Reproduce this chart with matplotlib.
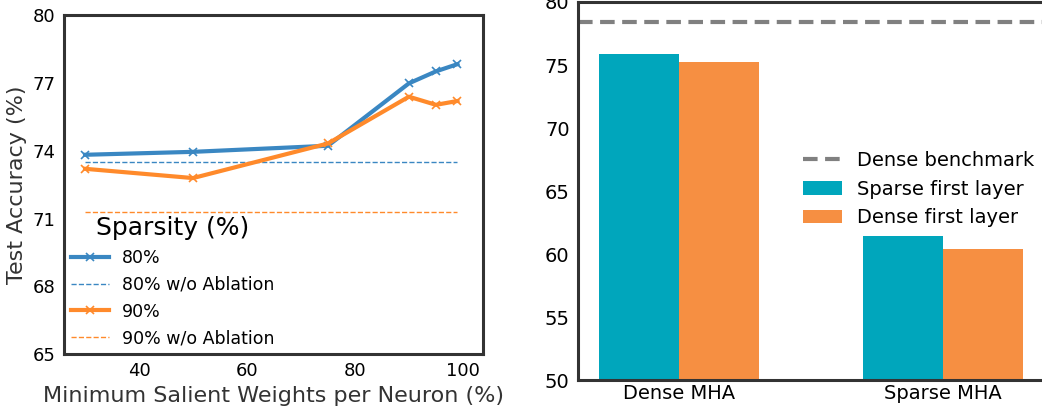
import numpy as np
import matplotlib
matplotlib.use("Agg")
import matplotlib.pyplot as plt

# left panel: accuracy vs minimum salient weights
min_salient = [30, 50, 75, 90, 95, 99]
acc_80 = [73.82, 73.95, 74.22, 76.98, 77.51, 77.83]
acc_90 = [73.2, 72.79, 74.32, 76.39, 76.03, 76.2]
acc_80_no_abl = 73.5
acc_90_no_abl = 71.28

# right panel: MHA variants
mha_groups = ["Dense MHA", "Sparse MHA"]
sparse_first = [75.87, 61.43]
dense_first = [75.24, 60.4]
dense_benchmark = 78.4

blue = "#3a87c2"
orange = "#ff8a2b"
teal = "#00a6bc"
orange2 = "#f68f42"
spine_col = "#333333"

fig = plt.figure(figsize=(10.42, 4.08), dpi=100)
ax1 = fig.add_axes([0.0614, 0.132, 0.402, 0.831])
ax2 = fig.add_axes([0.5547, 0.0686, 0.4473, 0.9265])

for ax in (ax1, ax2):
    for s in ax.spines.values():
        s.set_color(spine_col)
        s.set_linewidth(2.2)
    ax.tick_params(length=0, labelsize=13, pad=6)

ax1.plot(min_salient, acc_80, color=blue, lw=3, marker="x", ms=6, mew=1.2, label="80%")
ax1.plot([min_salient[0], min_salient[-1]], [acc_80_no_abl] * 2, color=blue, lw=1, ls="--",
         label="80% w/o Ablation")
ax1.plot(min_salient, acc_90, color=orange, lw=3, marker="x", ms=6, mew=1.2, label="90%")
ax1.plot([min_salient[0], min_salient[-1]], [acc_90_no_abl] * 2, color=orange, lw=1, ls="--",
         label="90% w/o Ablation")
ax1.set_xlim(26.1, 103.7)
ax1.set_ylim(65, 80)
ax1.set_yticks([65, 68, 71, 74, 77, 80])
ax1.set_xticks([40, 60, 80, 100])
ax1.set_xlabel("Minimum Salient Weights per Neuron (%)", fontsize=16, color="#333333", labelpad=4)
ax1.set_ylabel("Test Accuracy (%)", fontsize=16, color="#333333", labelpad=4)
leg = ax1.legend(loc="lower left", frameon=False, fontsize=12.5, title="Sparsity (%)",
                 title_fontsize=18, handlelength=2.2, handletextpad=0.75,
                 borderaxespad=0.1, borderpad=0.3)

x = np.arange(len(mha_groups))
w = 0.303
ax2.axhline(dense_benchmark, color="gray", lw=3, ls=(0, (3.5, 1.8)), label="Dense benchmark")
ax2.bar(x - w / 2, sparse_first, w, color=teal, label="Sparse first layer")
ax2.bar(x + w / 2, dense_first, w, color=orange2, label="Dense first layer")
ax2.set_xlim(-0.383, 1.383)
ax2.set_ylim(50, 80)
ax2.set_xticks(x)
ax2.set_xticklabels(mha_groups)
ax2.tick_params(axis="x", labelsize=14, pad=3)
ax2.tick_params(axis="y", labelsize=14)
ax2.legend(loc="center right", frameon=False, fontsize=14, handlelength=2.0,
           bbox_to_anchor=(1.0, 0.505), borderaxespad=0.1)

fig.savefig("out.png", dpi=100)
